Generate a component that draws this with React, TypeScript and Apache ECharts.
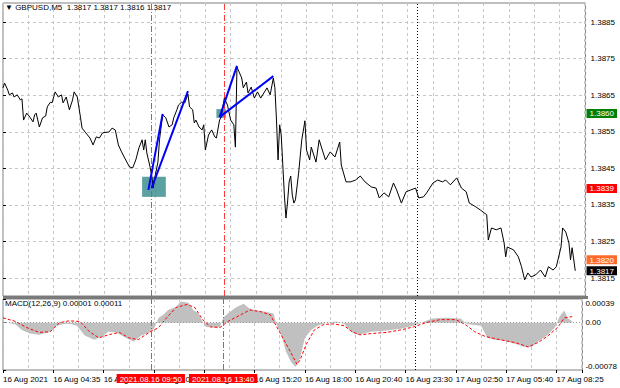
import React, { useEffect, useRef } from "react";
import * as echarts from "echarts";

// ---------- data ----------
const symbolName = "GBPUSD,M5";
const ohlc = [1.3817, 1.3817, 1.3816, 1.3817];
const macdName = "MACD(12,26,9)";
const macdValues = [0.00001, 0.00011];

const barsPerLabel = 32;
const timeLabels = [
  "16 Aug 2021", "16 Aug 04:35", "16 Aug 07:20", "16 Aug 10:00", "16 Aug 12:40", "16 Aug 15:20",
  "16 Aug 18:00", "16 Aug 20:40", "16 Aug 23:30", "17 Aug 02:50", "17 Aug 05:40", "17 Aug 08:25",
];
const totalBars = 368.5;
const markerBars = [94, 140];
const markerLabels = ["2021.08.16 09:50", "2021.08.16 13:40"];
const separatorBar = 262;

const priceTicks = [1.3815, 1.3825, 1.3835, 1.3845, 1.3855, 1.3865, 1.3875, 1.3885];
const priceMin = 1.38101;
const priceMax = 1.38902;
const levelValues = [1.386, 1.38395, 1.382];
const levelLabels = ["1.3860", "1.3839", "1.3820"];
const lastPrice = 1.3817;
const lastLabel = "1.3817";

// [bar index, close]
const pricePath: [number, number][] = [
  [0, 1.3867], [1, 1.38683], [3, 1.38664], [4, 1.38651], [6, 1.38656], [7, 1.38645], [9, 1.38651],
  [11, 1.38637], [12, 1.3864], [13, 1.38582], [15, 1.38601], [17, 1.3859], [19, 1.38577], [20, 1.38596],
  [21, 1.38601], [23, 1.38563], [25, 1.38588], [27, 1.38593], [28, 1.38618], [30, 1.38631], [31, 1.38629],
  [33, 1.38659], [35, 1.38645], [37, 1.38651], [38, 1.38629], [40, 1.38645], [42, 1.3861], [44, 1.38637],
  [45, 1.38659], [47, 1.38645], [49, 1.3859], [50, 1.3856], [52, 1.38549], [55, 1.38533], [57, 1.38514],
  [59, 1.38536], [61, 1.38533], [63, 1.38547], [66, 1.38549], [67, 1.38549], [69, 1.3856], [71, 1.38555],
  [73, 1.38514], [75, 1.38495], [77, 1.38478], [80, 1.38454], [82, 1.38451], [84, 1.38473], [86, 1.38506],
  [88, 1.38528], [89, 1.385], [90, 1.38528], [91, 1.38492], [93, 1.38454], [94, 1.38432], [95, 1.38396],
  [96, 1.38424], [98, 1.38467], [99, 1.38528], [100, 1.38563], [101, 1.38596], [103, 1.38588], [105, 1.38563],
  [107, 1.38569], [108, 1.38588], [110, 1.3861], [111, 1.38623], [113, 1.38631], [115, 1.38629], [117, 1.38653],
  [118, 1.38618], [120, 1.3861], [121, 1.38574], [122, 1.38582], [124, 1.38563], [126, 1.38555], [127, 1.38569],
  [128, 1.385], [130, 1.38541], [132, 1.38555], [134, 1.38536], [135, 1.38533], [137, 1.38582], [138, 1.3859],
  [140, 1.38642], [142, 1.38623], [144, 1.38582], [146, 1.38569], [147, 1.38508], [148, 1.38727], [151, 1.38697],
  [152, 1.3867], [154, 1.38686], [155, 1.38656], [157, 1.38672], [159, 1.38642], [161, 1.38659], [163, 1.38642],
  [165, 1.38656], [167, 1.3867], [169, 1.38651], [171, 1.38697], [172, 1.3867], [173, 1.38582], [174, 1.38473],
  [175, 1.38569], [176, 1.38541], [177, 1.38459], [178, 1.38377], [179, 1.38314], [180, 1.38358], [181, 1.38413],
  [182, 1.38429], [183, 1.38377], [184, 1.38355], [185, 1.38364], [187, 1.38437], [189, 1.38528], [191, 1.3858],
  [192, 1.385], [194, 1.38473], [195, 1.38508], [198, 1.38467], [200, 1.38528], [202, 1.385], [204, 1.38473],
  [207, 1.38495], [210, 1.38481], [213, 1.38522], [214, 1.38459], [217, 1.38413], [220, 1.38413], [223, 1.38418],
  [226, 1.38429], [229, 1.38413], [233, 1.38399], [236, 1.38396], [238, 1.38369], [241, 1.38383], [244, 1.38372],
  [247, 1.3841], [249, 1.38391], [252, 1.38355], [255, 1.38386], [258, 1.38391], [261, 1.38396], [263, 1.38369],
  [266, 1.38372], [268, 1.38383], [272, 1.3841], [275, 1.38418], [278, 1.38413], [280, 1.38418], [283, 1.38405],
  [287, 1.38424], [290, 1.38396], [293, 1.38386], [295, 1.38355], [299, 1.38345], [302, 1.38336], [306, 1.38323],
  [307, 1.38254], [309, 1.38287], [312, 1.38282], [315, 1.38287], [317, 1.38246], [318, 1.38208], [319, 1.38235],
  [323, 1.38227], [326, 1.38208], [328, 1.38181], [330, 1.38145], [332, 1.38164], [334, 1.38153], [337, 1.38159],
  [340, 1.38172], [343, 1.38153], [345, 1.38181], [348, 1.38172], [350, 1.38181], [353, 1.38235], [354, 1.38287],
  [356, 1.38276], [358, 1.38246], [359, 1.382], [360, 1.38233], [362, 1.3817],
];

// [bar index, MACD histogram]
const macdPath: [number, number][] = [
  [0, 0.00002], [3, 0], [8, -0.00003], [12, -0.00012], [17, -0.00018], [23, -0.0002], [30, -0.00015],
  [34, -0.00005], [39, -0.00002], [43, -0.00002], [47, -0.00005], [52, -0.00021], [58, -0.00028],
  [63, -0.00023], [67, -0.00015], [72, -0.00016], [78, -0.00025], [83, -0.00031], [88, -0.00021],
  [93, -0.00016], [96, -0.0001], [99, 0.00008], [102, 0.00013], [105, 0.00021], [110, 0.00026],
  [113, 0.00035], [118, 0.00033], [121, 0.00021], [124, 0.00016], [127, 0.00002], [129, -0.00007],
  [134, -0.00008], [138, -0.00007], [140, 0.00008], [143, 0.00015], [148, 0.00025], [153, 0.00031],
  [157, 0.00023], [162, 0.0002], [167, 0.00018], [172, 0.00015], [174, -0.00003], [177, -0.0002],
  [180, -0.00048], [183, -0.00064], [186, -0.00073], [189, -0.00058], [192, -0.00025], [196, -0.00012],
  [200, -0.00005], [206, 0], [212, 0.00002], [217, -0.00002], [222, -0.00016], [226, -0.0002],
  [234, -0.00015], [244, -0.00013], [253, -0.0001], [261, -0.00005], [268, 0.00002], [273, 0.00007],
  [282, 0.00008], [291, 0.00007], [295, -0.00002], [304, -0.00005], [308, -0.00025], [313, -0.00028],
  [319, -0.0003], [326, -0.00035], [332, -0.0004], [336, -0.0004], [341, -0.0003], [346, -0.00021],
  [351, -0.00008], [354, 0.0001], [357, 0.0002], [359, 0.00008], [362, 0.00002],
];

// [bar index, signal]
const signalPath: [number, number][] = [
  [0, 0.00008], [8, 0.00002], [15, -0.00008], [23, -0.00016], [30, -0.00015], [36, 0], [42, 0.00003],
  [49, 0.00002], [55, -0.00015], [61, -0.00025], [67, -0.0002], [74, -0.00016], [80, -0.00025],
  [86, -0.00028], [93, -0.00016], [99, -0.00008], [103, 0.00005], [110, 0.00025], [117, 0.0003],
  [122, 0.00025], [127, 0.00005], [132, -0.00007], [138, -0.00008], [143, 0.00002], [149, 0.0001],
  [157, 0.00021], [164, 0.00018], [170, 0.00013], [176, -0.00016], [182, -0.00044], [187, -0.00069],
  [189, -0.00061], [193, -0.00035], [198, -0.00012], [204, -0.00003], [210, -0.00002], [217, -0.00005],
  [222, -0.00015], [227, -0.0002], [234, -0.00018], [244, -0.00016], [253, -0.00012], [261, -0.00007],
  [269, 0], [278, 0.00005], [288, 0.00005], [294, -0.00003], [300, -0.00015], [307, -0.00023],
  [316, -0.00028], [326, -0.00033], [334, -0.0004], [340, -0.00033], [346, -0.00023], [353, -0.00007],
  [357, 0.00008], [362, 0.0001],
];
const macdMin = -0.00078;
const macdMax = 0.00039;
const macdTicks = [-0.00078, 0, 0.00039];

// drawn objects: [start, end] in [bar, price]
const trendLines: [number, number][][] = [
  [[92, 1.38391], [101, 1.38599]],
  [[94, 1.38396], [117, 1.38661]],
  [[137, 1.3859], [148, 1.3873]],
  [[137, 1.3859], [171, 1.38702]],
];
const zones: [number, number][][] = [
  [[88, 1.38427], [103, 1.38372]],
  [[135, 1.38612], [141, 1.38588]],
];

// ---------- styles ----------
const FONT = "'Liberation Sans', 'DejaVu Sans', sans-serif";
const GRID_LINE = { color: "#c6c6c6", type: [3, 3] as number[], width: 1 };
const levelColors = ["#008000", "#ff0000", "#f59a6a"];
const levelBoxColors = ["#008000", "#ff0000", "#ff6a2a", "#000000"];

export default function App() {
  const ref = useRef<HTMLDivElement>(null);

  useEffect(() => {
    if (!ref.current) return;
    const chart = echarts.init(ref.current, undefined, { renderer: "svg" });

    const labelBars = timeLabels.map((_, i) => i * barsPerLabel);
    const levelAxisValues = [...levelValues, lastPrice];
    const levelAxisTexts = [...levelLabels, lastLabel];
    const rich: Record<string, any> = {};
    levelBoxColors.forEach((c, i) => {
      rich["s" + i] = {
        backgroundColor: c,
        color: "#ffffff",
        padding: [1, 3, 0, 3],
        fontSize: 8,
        fontFamily: FONT,
      };
    });

    const verticalLines = [
      ...markerBars.map((b) => ({
        xAxis: b,
        lineStyle: { color: "#ff3c3c", width: 1, type: [6, 2, 1, 2] },
      })),
      { xAxis: separatorBar, lineStyle: { color: "#000000", width: 1, type: [1, 2] } },
    ];

    const option: any = {
      animation: false,
      backgroundColor: "#ffffff",
      textStyle: { fontFamily: FONT },
      grid: [
        { left: 3, right: 32, top: 3, bottom: 92, show: true, borderColor: "#808080", borderWidth: 1 },
        { left: 3, right: 32, top: 299, bottom: 18, show: true, borderColor: "#808080", borderWidth: 1 },
      ],
      xAxis: [
        {
          gridIndex: 0, type: "value", min: 0, max: totalBars, interval: 16,
          axisLine: { show: false }, axisTick: { show: false }, axisLabel: { show: false },
          splitLine: { show: true, lineStyle: GRID_LINE },
        },
        {
          gridIndex: 1, type: "value", min: 0, max: totalBars, interval: 16, position: "bottom",
          axisLine: { show: false }, axisTick: { show: false },
          axisLabel: {
            customValues: labelBars,
            formatter: (v: number) => timeLabels[Math.round(v / barsPerLabel)] ?? "",
            align: "left", margin: 5, fontSize: 8, color: "#000", fontFamily: FONT,
          },
          splitLine: { show: true, lineStyle: GRID_LINE },
        },
        {
          gridIndex: 1, type: "value", min: 0, max: totalBars, interval: barsPerLabel, position: "bottom", z: 5,
          axisLine: { show: false },
          axisTick: { show: true, length: 3, lineStyle: { color: "#000" } },
          axisLabel: {
            customValues: markerBars,
            formatter: (v: number) => markerLabels[markerBars.indexOf(Math.round(v))] ?? "",
            backgroundColor: "#ff0000", color: "#ffffff", padding: [1, 3, 0, 3],
            margin: 4, fontSize: 8, fontFamily: FONT, align: "center",
          },
          splitLine: { show: false },
        },
      ],
      yAxis: [
        {
          gridIndex: 0, type: "value", position: "right", min: priceMin, max: priceMax,
          axisLine: { show: false },
          axisTick: { show: true, customValues: priceTicks, length: 3, lineStyle: { color: "#000" } },
          axisLabel: {
            customValues: priceTicks, formatter: (v: number) => v.toFixed(4),
            margin: 5, fontSize: 8, color: "#000", fontFamily: FONT,
          },
          splitLine: { show: true, lineStyle: GRID_LINE },
        },
        {
          gridIndex: 0, type: "value", position: "right", offset: 0, min: priceMin, max: priceMax,
          axisLine: { show: false }, axisTick: { show: false }, splitLine: { show: false },
          axisLabel: {
            customValues: levelAxisValues,
            formatter: (v: number) => {
              let best = 0;
              levelAxisValues.forEach((lv, i) => {
                if (Math.abs(lv - v) < Math.abs(levelAxisValues[best] - v)) best = i;
              });
              return `{s${best}|${levelAxisTexts[best]}}`;
            },
            rich, margin: 1, fontSize: 8,
          },
        },
        {
          gridIndex: 1, type: "value", position: "right", min: macdMin, max: macdMax,
          axisLine: { show: false },
          axisTick: { show: true, customValues: macdTicks, length: 3, lineStyle: { color: "#000" } },
          axisLabel: {
            customValues: macdTicks,
            formatter: (v: number) => (Math.abs(v) < 1e-9 ? "0.00" : v.toFixed(5)),
            margin: 3, fontSize: 8, color: "#000", fontFamily: FONT,
            verticalAlignMinLabel: "bottom", verticalAlignMaxLabel: "top",
          },
          splitLine: { show: false },
        },
      ],
      graphic: [
        { type: "rect", left: 3, top: 296, shape: { width: 585, height: 3 }, style: { fill: "#7a7a7a" }, z: 10 },
        {
          type: "text", left: 5, top: 3, z: 10,
          style: {
            text: `▼ ${symbolName}  ${ohlc.map((v) => v.toFixed(4)).join(" ")}`,
            fontSize: 8, fontFamily: FONT, fill: "#000",
          },
        },
        {
          type: "text", left: 5, top: 299, z: 10,
          style: {
            text: `${macdName} ${macdValues.map((v) => v.toFixed(5)).join(" ")}`,
            fontSize: 8, fontFamily: FONT, fill: "#000",
          },
        },
      ],
      series: [
        {
          type: "line", xAxisIndex: 0, yAxisIndex: 0, data: pricePath, symbol: "none", z: 3,
          lineStyle: { color: "#000000", width: 1 },
          markArea: {
            silent: true,
            itemStyle: { color: "rgba(64,145,145,0.85)" },
            data: zones.map(([a, b]) => [{ coord: a }, { coord: b }]),
          },
          markLine: {
            silent: true, symbol: ["none", "none"], label: { show: false },
            data: [
              ...levelValues.map((v, i) => ({
                yAxis: v,
                lineStyle: { color: levelColors[i], width: i === 2 ? 1 : 1.6, type: "solid" },
              })),
              { yAxis: lastPrice, lineStyle: { color: "#c8c8c8", width: 1, type: "solid" } },
              ...verticalLines,
              ...trendLines.map(([a, b]) => [
                { coord: a, lineStyle: { color: "#0000ff", width: 2, type: "solid" } },
                { coord: b },
              ]),
            ],
          },
        },
        {
          type: "line", xAxisIndex: 1, yAxisIndex: 2, data: macdPath, symbol: "none", z: 2,
          lineStyle: { width: 0 },
          areaStyle: { color: "#c0c0c0", opacity: 1 },
        },
        {
          type: "line", xAxisIndex: 1, yAxisIndex: 2, data: signalPath, symbol: "none", z: 3,
          lineStyle: { color: "#ff0000", width: 1, type: [3, 2] },
          markLine: {
            silent: true, symbol: ["none", "none"], label: { show: false },
            data: [
              { yAxis: 0, lineStyle: { color: "#9a9a9a", width: 1, type: [1, 2] } },
              ...verticalLines,
            ],
          },
        },
      ],
    };

    chart.setOption(option);
    return () => chart.dispose();
  }, []);

  return (
    <div
      ref={ref}
      style={{ position: "fixed", left: 0, top: 0, width: 620, height: 388, background: "#fff" }}
    />
  );
}
